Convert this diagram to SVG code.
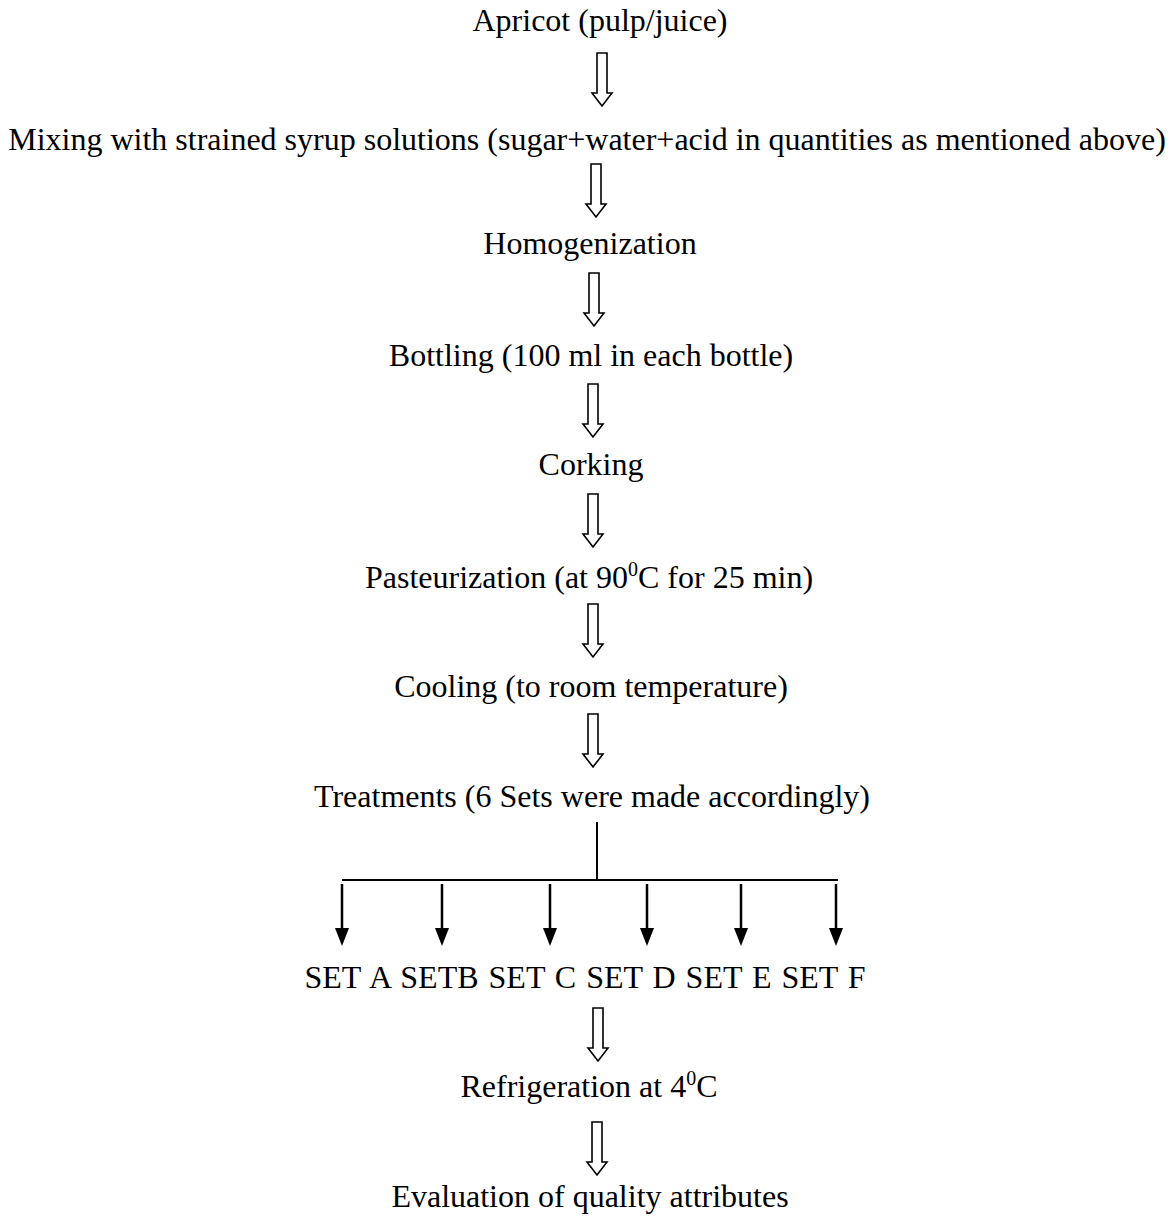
<svg xmlns="http://www.w3.org/2000/svg" width="1176" height="1216" viewBox="0 0 1176 1216">
<style>
text{font-family:"Liberation Serif","Times New Roman",serif;font-size:32px;fill:#000;text-anchor:middle}
.ha{fill:#fff;stroke:#000;stroke-width:1.6;stroke-linejoin:miter}
.ln{stroke:#000;stroke-width:2;fill:none}
.sup{font-size:20px}
</style>
<defs>
<path id="ha" class="ha" d="M-5,0 H5 V40 H10 L0,53 L-10,40 H-5 Z"/>
<g id="da"><line x1="0" y1="0" x2="0" y2="46" stroke="#000" stroke-width="2.5"/><path d="M-7,44 H7 L0,62 Z" fill="#000"/></g>
</defs>
<rect width="1176" height="1216" fill="#fff"/>
<g id="n1"><text x="600" y="31">Apricot (pulp/juice)</text></g>
<g id="n2"><text x="587" y="150">Mixing with strained syrup solutions (sugar+water+acid in quantities as mentioned above)</text></g>
<g id="n3"><text x="590" y="254">Homogenization</text></g>
<g id="n4"><text x="591" y="366">Bottling (100 ml in each bottle)</text></g>
<g id="n5"><text x="591" y="475">Corking</text></g>
<g id="n6"><text x="589" y="588">Pasteurization (at 90<tspan class="sup" dy="-12">0</tspan><tspan dy="12">C for 25 min)</tspan></text></g>
<g id="n7"><text x="591" y="697">Cooling (to room temperature)</text></g>
<g id="n8"><text x="592" y="807">Treatments (6 Sets were made accordingly)</text></g>
<g id="n9"><text x="585" y="988" word-spacing="2">SET A SETB SET C SET D SET E SET F</text></g>
<g id="n10"><text x="589" y="1097">Refrigeration at 4<tspan class="sup" dy="-12">0</tspan><tspan dy="12">C</tspan></text></g>
<g id="n11"><text x="590" y="1207">Evaluation of quality attributes</text></g>
<g id="connectors">
<use href="#ha" x="602" y="53"/>
<use href="#ha" x="596" y="164"/>
<use href="#ha" x="594" y="273"/>
<use href="#ha" x="593" y="384"/>
<use href="#ha" x="593" y="494"/>
<use href="#ha" x="593" y="604"/>
<use href="#ha" x="593" y="714"/>
<use href="#ha" x="598" y="1008"/>
<use href="#ha" x="597" y="1122"/>
<line class="ln" x1="597" y1="822" x2="597" y2="880"/>
<line class="ln" x1="342" y1="880" x2="838" y2="880"/>
<use href="#da" x="342" y="884"/>
<use href="#da" x="442" y="884"/>
<use href="#da" x="550" y="884"/>
<use href="#da" x="647" y="884"/>
<use href="#da" x="741" y="884"/>
<use href="#da" x="836" y="884"/>
</g>
</svg>
